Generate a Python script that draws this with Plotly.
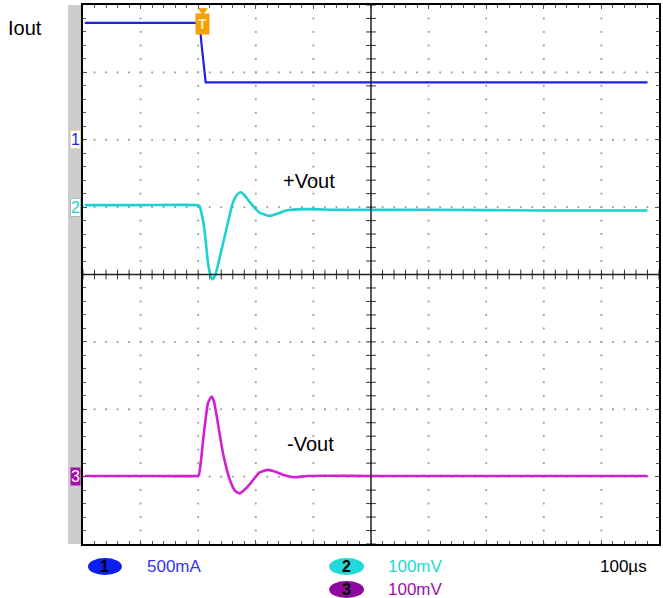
import numpy as np
import plotly.graph_objects as go

# ---- data ----
# time in microseconds (100 us/div, 10 divs), channel 1 in mA, channels 2/3 in mV
ch1_t = [-497, -297.6, -294, -290, -287, 480]
ch1_mA = [867, 867, 700, 520, 426, 426]

ch2_t = [-497, -400, -302, -298, -294, -289, -283, -279, -274.6, -270, -263.5, -251.4, -240, -233,
         -226.6, -220, -211, -193.8, -176.5, -160, -147.6, -113, -60, 100, 300, 480]
ch2_mV = [3, 3, 3, 2, -10, -34, -83, -100, -107, -100, -78, -34, 6, 18,
          22, 18, 8, -8, -13, -9, -5, -3, -4, -4, -5, -5]

ch3_t = [-497, -400, -302, -299, -295, -290.7, -283, -277, -273, -268.7, -257, -245, -236, -228,
         -220, -211, -194, -179, -165, -150, -133, -110, 0, 200, 480]
ch3_mV = [1, 1, 1, 2, 25, 60, 109, 119, 113, 94, 35, -5, -21, -25,
          -20, -12, 6, 10, 7, 2, -1, 1, 1, 1, 1]

# channel settings
ch1_scale, ch1_offset = 500.0, 2.0   # mA/div, div
ch2_scale, ch2_offset = 100.0, 1.0   # mV/div, div
ch3_scale, ch3_offset = 100.0, -3.0  # mV/div, div
trigger_t = -292

C1 = "#1f1fe6"
C2 = "#1fd0d0"
C3 = "#d21fd2"

W, H = 663, 598
L, R, T, B = 83, 661, 5, 544


def px(x):
    return (x - L) / (R - L)


def py(y):
    return (B - y) / (B - T)


fig = go.Figure()

# grid dots
gx, gy = [], []
for xv in np.arange(-400, 401, 100):
    for yv in np.arange(-4, 4.01, 0.2):
        gx.append(xv); gy.append(yv)
for yv in np.arange(-3, 3.1, 1):
    for xv in np.arange(-500, 501, 20):
        gx.append(xv); gy.append(yv)
fig.add_trace(go.Scatter(x=gx, y=gy, mode="markers",
                         marker=dict(size=1.8, color="#9a9a9a", symbol="square"),
                         hoverinfo="skip", showlegend=False))

# center cross ticks
cx = list(np.arange(-500, 501, 20))
fig.add_trace(go.Scatter(x=cx, y=[0] * len(cx), mode="markers",
                         marker=dict(symbol="line-ns", size=7, line=dict(width=1, color="#333")),
                         hoverinfo="skip", showlegend=False))
cy = list(np.arange(-4, 4.01, 0.2))
fig.add_trace(go.Scatter(x=[0] * len(cy), y=cy, mode="markers",
                         marker=dict(symbol="line-ew", size=7, line=dict(width=1, color="#333")),
                         hoverinfo="skip", showlegend=False))

# traces
fig.add_trace(go.Scatter(x=ch1_t, y=[v / ch1_scale + ch1_offset for v in ch1_mA], mode="lines",
                         line=dict(color=C1, width=2.2), showlegend=False))
fig.add_trace(go.Scatter(x=ch2_t, y=[v / ch2_scale + ch2_offset for v in ch2_mV], mode="lines",
                         line=dict(color=C2, width=2.6, shape="spline", smoothing=0.5), showlegend=False))
fig.add_trace(go.Scatter(x=ch3_t, y=[v / ch3_scale + ch3_offset for v in ch3_mV], mode="lines",
                         line=dict(color=C3, width=2.6, shape="spline", smoothing=0.5), showlegend=False))

shapes = [
    dict(type="rect", xref="paper", yref="paper", x0=px(68), x1=px(82), y0=0, y1=1,
         fillcolor="#cccccc", line=dict(width=0), layer="below"),
    dict(type="line", xref="x", yref="paper", x0=0, x1=0, y0=0, y1=1, line=dict(color="#222", width=1.5)),
    dict(type="line", xref="paper", yref="y", x0=0, x1=1, y0=0, y1=0, line=dict(color="#222", width=1.5)),
    # badges
    dict(type="circle", xref="paper", yref="paper", x0=px(88), x1=px(122), y0=py(575), y1=py(558),
         fillcolor="#0d1ef0", line=dict(width=0)),
    dict(type="circle", xref="paper", yref="paper", x0=px(330), x1=px(365), y0=py(575), y1=py(558),
         fillcolor="#22d8d8", line=dict(width=0)),
    dict(type="circle", xref="paper", yref="paper", x0=px(330), x1=px(365), y0=py(598), y1=py(581),
         fillcolor="#8e0a9e", line=dict(width=0)),
]

ann = []
font = "Liberation Sans, Arial, sans-serif"


def add_text(text, x, y, xanchor="left", **kw):
    d = dict(text=text, xref="paper", yref="paper", x=px(x), y=py(y), xanchor=xanchor,
             yanchor="middle", showarrow=False)
    d.update(kw)
    ann.append(d)


add_text("Iout", 6, 28, font=dict(size=20, color="black", family=font))
add_text("+Vout", 282, 181, font=dict(size=20, color="black", family=font))
add_text("-Vout", 286, 444, font=dict(size=20, color="black", family=font))
# badge digits + scale labels
for x0, y0, d in [(105, 566, "1"), (347, 566, "2"), (347, 589, "3")]:
    add_text("<b>" + d + "</b>", x0, y0, xanchor="center", font=dict(size=16, color="black", family=font))
add_text("500mA", 145, 566, font=dict(size=17, color="#3535f5", family=font))
add_text("100mV", 387, 566, font=dict(size=17, color="#22d8d8", family=font))
add_text("100mV", 387, 589, font=dict(size=17, color="#a010a8", family=font))
add_text("100µs", 651, 566, xanchor="right", font=dict(size=17, color="black", family=font))

# channel ground markers
ann.append(dict(text="1", xref="paper", yref="y", x=px(75), y=ch1_offset, xanchor="center", yanchor="middle",
                showarrow=False, bgcolor="white", bordercolor="#e0e0a0", borderwidth=1, borderpad=0,
                font=dict(size=16, color=C1, family=font)))
ann.append(dict(text="2", xref="paper", yref="y", x=px(75), y=ch2_offset, xanchor="center", yanchor="middle",
                showarrow=False, bgcolor="white", bordercolor="#a0c0c0", borderwidth=1, borderpad=0,
                font=dict(size=16, color=C2, family=font)))
ann.append(dict(text="3", xref="paper", yref="y", x=px(75), y=ch3_offset, xanchor="center", yanchor="middle",
                showarrow=False, bgcolor="#a010a8", borderpad=0,
                font=dict(size=16, color="white", family=font)))
# trigger marker
ann.append(dict(text="<b>T</b>", xref="x", yref="paper", x=trigger_t, y=py(24), xanchor="center",
                yanchor="middle", showarrow=False,
                bgcolor="#f5a000", borderpad=2, font=dict(size=14, color="#ffe8c0", family=font)))
fig.add_trace(go.Scatter(x=[trigger_t], y=[3.92], mode="markers",
                         marker=dict(symbol="triangle-down", size=9, color="#f5a000"),
                         hoverinfo="skip", showlegend=False))

axis_common = dict(showgrid=False, zeroline=False, showline=True, linecolor="black", linewidth=2,
                   mirror="ticks", ticks="inside", ticklen=4, tickcolor="#555",
                   showticklabels=False, fixedrange=True)
fig.update_layout(
    width=W, height=H, margin=dict(l=L, r=W - R, t=T, b=H - B),
    paper_bgcolor="white", plot_bgcolor="white",
    xaxis=dict(range=[-500, 500], dtick=100,
               minor=dict(ticks="inside", dtick=20, ticklen=3, tickcolor="#555"), **axis_common),
    yaxis=dict(range=[-4, 4], dtick=1,
               minor=dict(ticks="inside", dtick=0.2, ticklen=3, tickcolor="#555"), **axis_common),
    shapes=shapes, annotations=ann,
)
fig.write_html("out.html", config={"displayModeBar": False},
               post_script="document.body.style.margin='0px';document.body.style.overflow='hidden';")
